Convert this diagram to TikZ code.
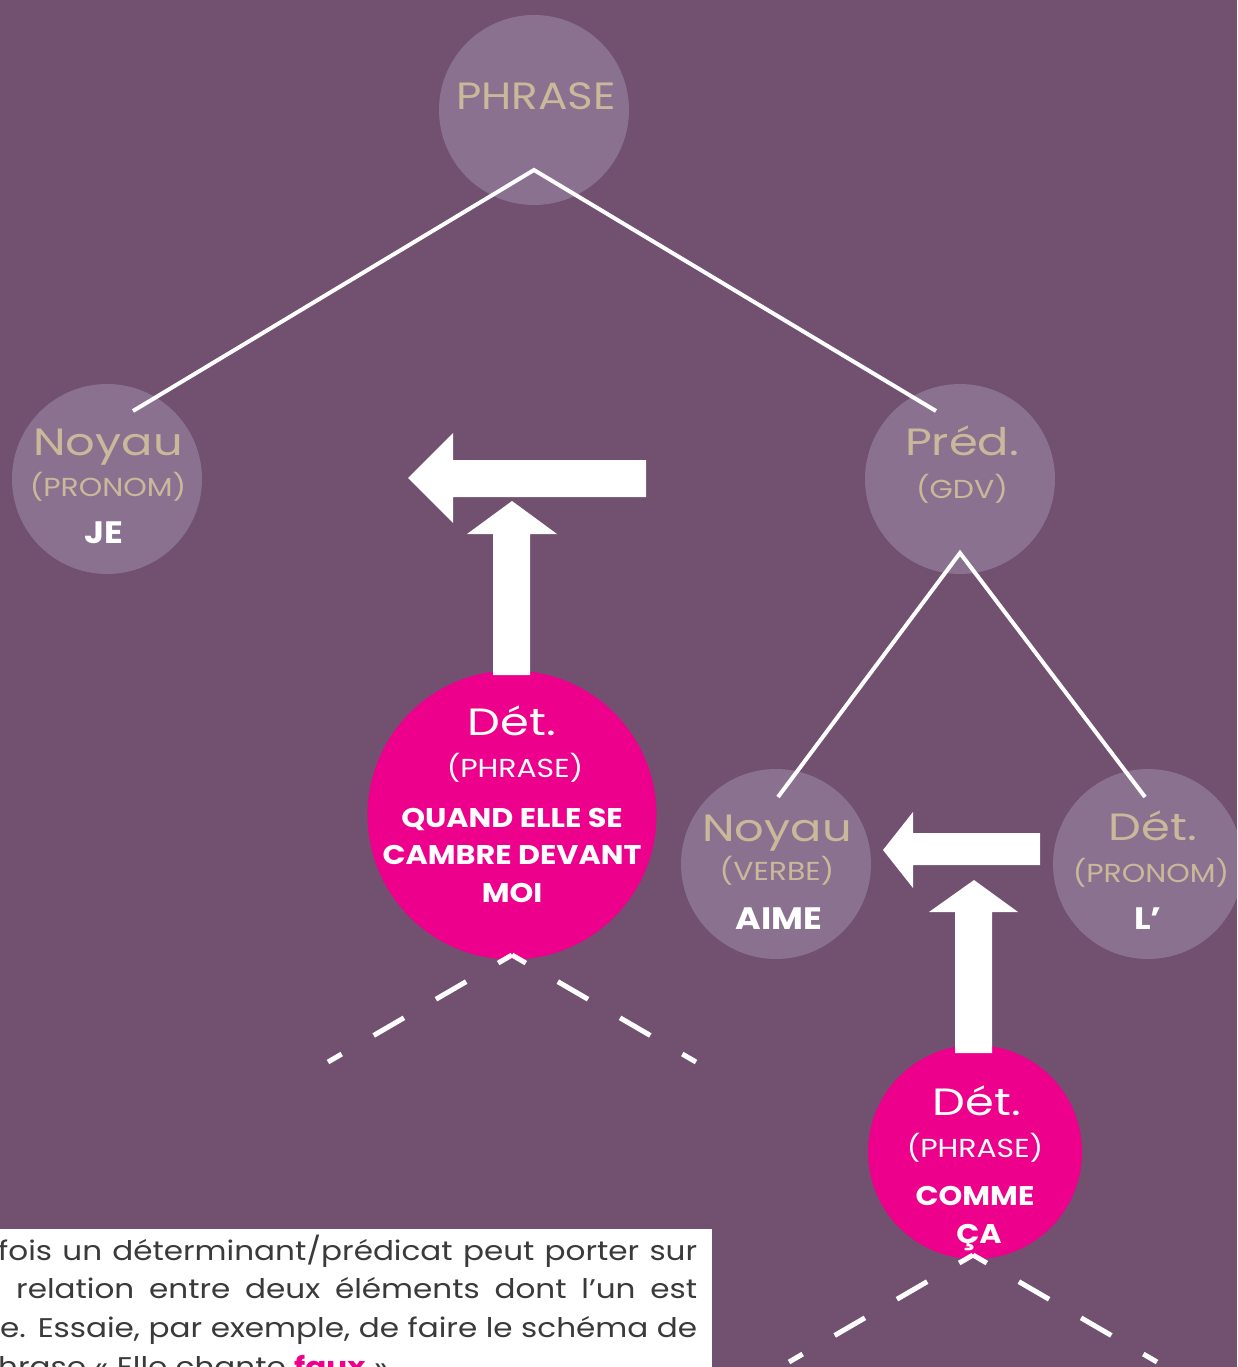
\documentclass[tikz,border=0pt]{standalone}
\usepackage{fontspec}
\setmainfont{Poppins}
\newfontfamily\fLow{Poppins}[FakeStretch=1.22]
\newfontfamily\fCap{Poppins}[FakeStretch=1.15]
\newfontfamily\fBold{Poppins}[FakeStretch=1.12]
\newfontfamily\fBody{Poppins}[FakeStretch=1.15]
\definecolor{bgc}{HTML}{715070}
\definecolor{lightc}{HTML}{8A7190}
\definecolor{tanc}{HTML}{C9B99A}
\definecolor{pinkc}{HTML}{EC008C}
\definecolor{bodyc}{HTML}{3A3A3A}
\newcommand{\FsTitle}{\fLow\fontsize{38}{46}\selectfont}
\newcommand{\FsCapT}{\fCap\fontsize{38}{46}\selectfont}
\newcommand{\FsSub}{\fCap\fontsize{26}{32}\selectfont}
\newcommand{\FsWord}{\fBold\fontsize{27}{34}\selectfont\bfseries}
\newcommand{\FsWordL}{\fBold\fontsize{31}{36}\selectfont\bfseries}
\newcommand{\FsBody}{\fBody\fontsize{27}{39}\selectfont}
\begin{document}
\begin{tikzpicture}[x=1pt,y=-1pt,
  lightnode/.style={circle, fill=lightc, minimum size=190pt, inner sep=0pt},
  pinknode/.style={circle, fill=pinkc, inner sep=0pt},
  tanA/.style={text=tanc, font=\FsTitle, anchor=base, inner sep=0pt},
  tanB/.style={text=tanc, font=\FsSub, anchor=base, inner sep=0pt},
  whA/.style={text=white, font=\FsTitle, anchor=base, inner sep=0pt},
  whB/.style={text=white, font=\FsSub, anchor=base, inner sep=0pt},
  whW/.style={text=white, font=\FsWord, anchor=base, inner sep=0pt},
  whL/.style={text=white, font=\FsWordL, anchor=base, inner sep=0pt},
  link/.style={draw=white, line width=4pt},
  dlink/.style={draw=white, line width=5pt, dash pattern=on 35pt off 37pt, dash phase=19pt},
  blockarrow/.style={fill=white},
  bodyline/.style={text=bodyc, font=\FsBody, anchor=base west, inner sep=0pt}
]
\useasboundingbox (0,0) rectangle (1237,1367);
\clip (0,0) rectangle (1237,1367);
\fill[bgc] (0,0) rectangle (1237,1367);

% circles
\node[lightnode] (phrase) at (534,110) {};
\node[lightnode] (je) at (107,479) {};
\node[lightnode] (pred) at (960,479) {};
\node[lightnode] (aime) at (776,864) {};
\node[lightnode] (lp) at (1148,864) {};
\node[pinknode, minimum size=289pt] (det1) at (512,815) {};
\node[pinknode, minimum size=214pt] (det2) at (975,1152) {};

% connector points
\coordinate (phraseApex) at (534,170);
\coordinate (jeTop) at (133,411);
\coordinate (predTop) at (936,411);
\coordinate (predApex) at (960,553);
\coordinate (aimeTop) at (778,797);
\coordinate (lpTop) at (1145,797);
\coordinate (det1Apex) at (512,955);
\coordinate (det1L) at (328,1062);
\coordinate (det1R) at (696,1062);
\coordinate (det2Apex) at (973,1255);
\coordinate (det2L) at (789,1362);
\coordinate (det2R) at (1157,1362);

\draw[link] (jeTop) -- (phraseApex) -- (predTop);
\draw[link] (aimeTop) -- (predApex) -- (lpTop);
\draw[dlink] (det1Apex) -- (det1L);
\draw[dlink] (det1Apex) -- (det1R);
\draw[dlink] (det2Apex) -- (det2L);
\draw[dlink] (det2Apex) -- (det2R);

% block arrows
\fill[blockarrow] (646,460) -- (453,460) -- (453,433) -- (408,478) -- (453,523) -- (453,497) -- (646,497) -- cycle;
\fill[blockarrow] (493,675) -- (493,534) -- (467,534) -- (512,501) -- (557,534) -- (530,534) -- (530,675) -- cycle;
\fill[blockarrow] (1040,833) -- (913,833) -- (913,812) -- (883,850) -- (913,888) -- (913,865) -- (1040,865) -- cycle;
\fill[blockarrow] (955,1053) -- (955,912) -- (929,912) -- (974,880) -- (1018,912) -- (992,912) -- (992,1053) -- cycle;

% texts
\node[tanA, font=\FsCapT] (phraseT) at (536,110) {PHRASE};

\node[tanA] (jeT1) at (108,455) {Noyau};
\node[tanB] (jeT2) at (108,496) {(PRONOM)};
\node[whL] (jeT3) at (104,543) {JE};

\node[tanA] (predT1) at (962,455) {Préd.};
\node[tanB] (predT2) at (962,498) {(GDV)};

\node[tanA] (aimeT1) at (777,841) {Noyau};
\node[tanB] (aimeT2) at (777,880) {(VERBE)};
\node[whL] (aimeT3) at (779,929) {AIME};

\node[tanA] (lpT1) at (1153,840) {Dét.};
\node[tanB] (lpT2) at (1151,882) {(PRONOM)};
\node[whL] (lpT3) at (1148,929) {L’};

\node[whA] (det1T1) at (512,735) {Dét.};
\node[whB] (det1T2) at (515,777) {(PHRASE)};
\node[whW] (det1T3) at (512,827) {QUAND ELLE SE};
\node[whW] (det1T4) at (512,864) {CAMBRE DEVANT};
\node[whW] (det1T5) at (512,902) {MOI};

\node[whA] (det2T1) at (977,1115) {Dét.};
\node[whB] (det2T2) at (975,1157) {(PHRASE)};
\node[whW] (det2T3) at (975,1205) {COMME};
\node[whW] (det2T4) at (979,1243) {ÇA};

% text box
\fill[white] (-10,1229) rectangle (712,1380);
\node[bodyline] (bl1) at (-2,1260) {\makebox[699pt][s]{fois un déterminant/prédicat peut porter sur}};
\node[bodyline] (bl2) at (16,1298) {\makebox[681pt][s]{relation entre deux éléments dont l’un est}};
\node[bodyline] (bl3) at (0,1337) {\makebox[697pt][s]{e. Essaie, par exemple, de faire le schéma de}};
\node[bodyline] (bl4) at (-2,1376) {hrase « Elle chante \textcolor{pinkc}{\textbf{faux}} ».};
\end{tikzpicture}
\end{document}
